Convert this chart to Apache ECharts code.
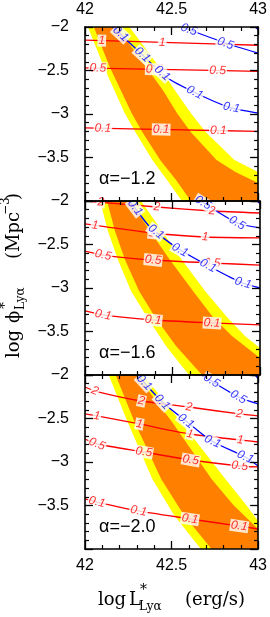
<!DOCTYPE html>
<html><head><meta charset="utf-8">
<script src="https://cdn.jsdelivr.net/npm/echarts@6/dist/echarts.min.js"></script>
<style>html,body{margin:0;padding:0;background:#fff}#c{width:270px;height:617px}</style>
</head><body><div id="c"></div>
<script>
// ---------- data (x = log L*, y = log phi*) ----------
const xTickValues = [42, 42.5, 43];
const xTickLabels = ['42', '42.5', '43'];
const yTickValues = [-2, -2.5, -3, -3.5];
const yTickLabels = ['\u22122', '\u22122.5', '\u22123', '\u22123.5'];
const alphaLabels = ['\u03b1=\u22121.2', '\u03b1=\u22121.6', '\u03b1=\u22122.0'];

// confidence bands: edges from top (log phi = -2) downward
const p1YellowL = [[42.017,-2],[42.109,-2.46],[42.229,-2.989],[42.291,-3.207],[42.389,-3.529],[42.474,-3.759],[42.56,-4]];
const p1OrangeL = [[42.051,-2],[42.143,-2.46],[42.269,-2.989],[42.331,-3.207],[42.434,-3.529],[42.526,-3.759],[42.611,-4]];
const p1OrangeR = [[42.183,-2],[42.354,-2.46],[42.457,-2.747],[42.531,-2.989],[42.611,-3.207],[42.76,-3.529],[42.869,-3.667],[43,-3.793]];
const p1YellowR = [[42.257,-2],[42.429,-2.46],[42.526,-2.747],[42.611,-2.989],[42.697,-3.207],[42.863,-3.529],[43,-3.667]];

const p2YellowL = [[42.086,-2],[42.131,-2.345],[42.189,-2.678],[42.263,-3.034],[42.354,-3.333],[42.463,-3.667],[42.594,-4]];
const p2OrangeL = [[42.126,-2],[42.171,-2.345],[42.229,-2.678],[42.309,-3.034],[42.4,-3.333],[42.52,-3.667],[42.669,-4]];
const p2OrangeR = [[42.257,-2],[42.371,-2.345],[42.486,-2.678],[42.617,-3.034],[42.731,-3.333],[42.84,-3.552],[43,-3.805]];
const p2YellowR = [[42.32,-2],[42.44,-2.345],[42.554,-2.678],[42.686,-3.034],[42.811,-3.333],[42.914,-3.552],[43,-3.69]];

const p3YellowL = [[42.137,-2],[42.246,-2.54],[42.389,-3.195],[42.514,-3.609],[42.669,-4]];
const p3OrangeL = [[42.177,-2],[42.286,-2.54],[42.44,-3.195],[42.571,-3.609],[42.731,-4]];
const p3OrangeR = [[42.297,-2],[42.503,-2.54],[42.731,-3.195],[42.857,-3.494],[43,-3.77]];
const p3YellowR = [[42.337,-2],[42.554,-2.54],[42.811,-3.195],[42.931,-3.494],[43,-3.678]];

// contour lines and their label positions
const p1Red1 = [[42,-2.15],[42.5,-2.18],[43,-2.21]];
const p1Red1Lab = [[42.097,-2.156],[42.446,-2.177]];
const p1Red05 = [[42,-2.47],[42.5,-2.49],[43,-2.51]];
const p1Red05Lab = [[42.074,-2.473],[42.4,-2.486],[42.766,-2.5]];
const p1Red01 = [[42,-3.16],[42.5,-3.18],[43,-3.2]];
const p1Red01Lab = [[42.103,-3.164],[42.44,-3.178],[42.771,-3.19]];
const p1Blue01 = [[42.16,-2],[42.314,-2.287],[42.469,-2.575],[42.64,-2.759],[42.829,-2.92],[43,-2.989]];
const p1Blue01Lab = [[42.206,-2.08],[42.331,-2.319],[42.446,-2.532],[42.634,-2.752],[42.846,-2.927]];
const p1Blue05 = [[42.56,-2],[42.811,-2.184],[43,-2.3]];
const p1Blue05Lab = [[42.6,-2.03],[42.811,-2.19]];
const p1Blue1 = [[42.983,-2],[43,-2.03]];

const p2Red2 = [[42,-2.0],[42.41,-2.069],[42.726,-2.115],[43,-2.138]];
const p2Red2Lab = [[42.09,-2.015],[42.41,-2.069],[42.726,-2.115]];
const p2Red1 = [[42,-2.264],[42.383,-2.368],[42.686,-2.414],[43,-2.425]];
const p2Red1Lab = [[42.057,-2.28],[42.383,-2.368],[42.686,-2.414]];
const p2Red05 = [[42,-2.575],[42.103,-2.621],[42.389,-2.678],[42.726,-2.713],[43,-2.736]];
const p2Red05Lab = [[42.103,-2.621],[42.389,-2.678],[42.726,-2.713]];
const p2Red01 = [[42,-3.264],[42.103,-3.31],[42.389,-3.368],[42.726,-3.402],[43,-3.425]];
const p2Red01Lab = [[42.103,-3.31],[42.389,-3.368],[42.726,-3.402]];
const p2Blue01 = [[42.257,-2],[42.371,-2.299],[42.526,-2.54],[42.697,-2.736],[42.886,-2.931],[43,-3.0]];
const p2Blue01Lab = [[42.286,-2.076],[42.406,-2.353],[42.543,-2.563],[42.703,-2.743],[42.903,-2.943]];
const p2Blue05 = [[42.66,-2],[42.869,-2.253],[43,-2.31]];
const p2Blue05Lab = [[42.674,-2.02],[42.869,-2.253]];
const p2Blue1 = [[42.983,-2],[43,-2.03]];

const p3Red2 = [[42,-2.138],[42.057,-2.184],[42.326,-2.299],[42.6,-2.368],[42.891,-2.448],[43,-2.471]];
const p3Red2Lab = [[42.057,-2.184],[42.326,-2.299],[42.6,-2.368],[42.891,-2.448]];
const p3Red1 = [[42,-2.448],[42.069,-2.471],[42.314,-2.563],[42.606,-2.678],[42.897,-2.747],[43,-2.77]];
const p3Red1Lab = [[42.069,-2.471],[42.314,-2.563],[42.606,-2.678],[42.897,-2.747]];
const p3Red05 = [[42,-2.736],[42.069,-2.793],[42.34,-2.885],[42.611,-2.977],[42.894,-3.046],[43,-3.057]];
const p3Red05Lab = [[42.069,-2.793],[42.34,-2.885],[42.611,-2.977],[42.894,-3.046]];
const p3Red01 = [[42,-3.425],[42.069,-3.46],[42.309,-3.563],[42.606,-3.655],[42.891,-3.736],[43,-3.77]];
const p3Red01Lab = [[42.069,-3.46],[42.309,-3.563],[42.606,-3.655],[42.891,-3.736]];
const p3Blue01 = [[42.303,-2],[42.446,-2.31],[42.583,-2.529],[42.731,-2.759],[42.926,-2.943],[43,-3.046]];
const p3Blue01Lab = [[42.343,-2.087],[42.446,-2.31],[42.583,-2.529],[42.737,-2.765],[42.926,-2.943]];
const p3Blue05 = [[42.674,-2],[42.886,-2.253],[43,-2.333]];
const p3Blue05Lab = [[42.731,-2.065],[42.886,-2.253]];
const p3Blue1 = [[42.983,-2],[43,-2.04]];

// ---------- layout / style ----------
const X_MIN = 42, X_MAX = 43, Y_MIN = -4, Y_MAX = -2;
const GRID_LEFT = 85, GRID_W = 175, GRID_H = 174, GRID_TOPS = [27, 201, 375];
const RED = '#ff0000', BLUE = '#0000ff', YELLOW = '#ffff00', ORANGE = '#ff8000';
const SERIF = '"DejaVu Serif", serif', SANS = '"Liberation Sans", Arial, sans-serif';

const panels = [
  {yl:p1YellowL, ol:p1OrangeL, or:p1OrangeR, yr:p1YellowR, contours:[
    [p1Red1,p1Red1Lab,'1',RED],[p1Red05,p1Red05Lab,'0.5',RED],[p1Red01,p1Red01Lab,'0.1',RED],
    [p1Blue01,p1Blue01Lab,'0.1',BLUE],[p1Blue05,p1Blue05Lab,'0.5',BLUE],[p1Blue1,[],'1',BLUE]]},
  {yl:p2YellowL, ol:p2OrangeL, or:p2OrangeR, yr:p2YellowR, contours:[
    [p2Red2,p2Red2Lab,'2',RED],[p2Red1,p2Red1Lab,'1',RED],[p2Red05,p2Red05Lab,'0.5',RED],[p2Red01,p2Red01Lab,'0.1',RED],
    [p2Blue01,p2Blue01Lab,'0.1',BLUE],[p2Blue05,p2Blue05Lab,'0.5',BLUE],[p2Blue1,[],'1',BLUE]]},
  {yl:p3YellowL, ol:p3OrangeL, or:p3OrangeR, yr:p3YellowR, contours:[
    [p3Red2,p3Red2Lab,'2',RED],[p3Red1,p3Red1Lab,'1',RED],[p3Red05,p3Red05Lab,'0.5',RED],[p3Red01,p3Red01Lab,'0.1',RED],
    [p3Blue01,p3Blue01Lab,'0.1',BLUE],[p3Blue05,p3Blue05Lab,'0.5',BLUE],[p3Blue1,[],'1',BLUE]]}
];

function lookup(vals, labs, v) {
  for (let i = 0; i < vals.length; i++) if (Math.abs(vals[i] - v) < 1e-6) return labs[i];
  return '';
}
const TICK = {show:true, inside:true, length:8, lineStyle:{color:'#000', width:1.3, opacity:1}};
const MINOR = {show:true, splitNumber:5, length:4, lineStyle:{color:'#000', width:1.2, opacity:1}};
function mkX(g, pos, show) {
  return {type:'value', gridIndex:g, position:pos, min:X_MIN, max:X_MAX, interval:0.5, z:10,
    axisLine:{show:true, onZero:false, lineStyle:{color:'#000', width:1.6}},
    axisTick:TICK, minorTick:MINOR,
    splitLine:{show:false}, minorSplitLine:{show:false},
    axisLabel:{show:show, margin:9, color:'#000', fontSize:16, fontFamily:SANS,
      formatter:v => lookup(xTickValues, xTickLabels, v)}};
}
function mkY(g, pos, show) {
  return {type:'value', gridIndex:g, position:pos, min:Y_MIN, max:Y_MAX, interval:0.5, z:10,
    axisLine:{show:true, onZero:false, lineStyle:{color:'#000', width:1.6}},
    axisTick:TICK, minorTick:MINOR,
    splitLine:{show:false}, minorSplitLine:{show:false},
    axisLabel:{show:show, margin:16, color:'#000', fontSize:16, fontFamily:SANS,
      showMinLabel:true, showMaxLabel:true,
      formatter:v => lookup(yTickValues, yTickLabels, v)}};
}
function band(g, left, right, color) {
  return {type:'custom', xAxisIndex:2*g, yAxisIndex:2*g, clip:true, z:1, silent:true,
    data:[left[0]],
    renderItem:(params, api) => {
      const pts = left.concat([[X_MAX, Y_MIN]], right.slice().reverse()).map(p => api.coord(p));
      return {type:'polygon', shape:{points:pts}, style:{fill:color, stroke:null}};
    }};
}
function slopeAngle(line, x) {
  let i = 0;
  while (i < line.length - 2 && line[i + 1][0] < x) i++;
  const a = line[i], b = line[i + 1];
  const sx = GRID_W / (X_MAX - X_MIN), sy = GRID_H / (Y_MAX - Y_MIN);
  return Math.atan2((b[1] - a[1]) * sy, (b[0] - a[0]) * sx) * 180 / Math.PI;
}

const grids = [], xAxes = [], yAxes = [], series = [], graphics = [];
panels.forEach((p, g) => {
  grids.push({left:GRID_LEFT, width:GRID_W, top:GRID_TOPS[g], height:GRID_H});
  xAxes.push(mkX(g, 'bottom', g === 2));
  xAxes.push(mkX(g, 'top', g === 0));
  yAxes.push(mkY(g, 'left', true));
  yAxes.push(mkY(g, 'right', false));
  series.push(band(g, p.yl, p.yr, YELLOW));
  series.push(band(g, p.ol, p.or, ORANGE));
  const labItems = [];
  p.contours.forEach(c => {
    const [line, labs, level, color] = c;
    series.push({type:'line', xAxisIndex:2*g, yAxisIndex:2*g, data:line, symbol:'none', showSymbol:false,
      smooth:0.2, clip:true, silent:true, z:3, lineStyle:{color:color, width:1.3}});
    labs.forEach(l => labItems.push({name:level, value:l,
      label:{color:color, rotate:slopeAngle(line, l[0])}}));
  });
  series.push({type:'scatter', xAxisIndex:2*g, yAxisIndex:2*g, data:labItems, symbol:'circle', symbolSize:1,
    silent:true, z:5, clip:false,
    itemStyle:{color:'rgba(255,255,255,0)'},
    label:{show:true, position:'inside', formatter:'{b}', fontSize:12, fontStyle:'italic', fontFamily:SANS,
      backgroundColor:'#fff', padding:[0,1,0,1], lineHeight:12}});
  graphics.push({type:'text', x:99, y:GRID_TOPS[g] + 152, z:10,
    style:{text:alphaLabels[g], font:'18px ' + SANS, fill:'#000', align:'left', verticalAlign:'middle',
      textAlign:'left', textVerticalAlign:'middle'}});
});

function t(x, y, text, size) {
  return {type:'text', x:x, y:y, style:{text:text, font:size + 'px ' + SERIF, fill:'#000',
    align:'left', verticalAlign:'middle', textAlign:'left', textVerticalAlign:'middle'}};
}
// x-axis title
graphics.push(t(98, 600, 'log', 18), t(129, 600, 'L', 18), t(140, 590, '*', 14), t(139, 607, 'Ly\u03b1', 12), t(185, 600, '(erg/s)', 18));
// y-axis title (rotated)
graphics.push({type:'group', x:14, y:358, rotation:Math.PI / 2, children:[
  t(0, 0, 'log', 18), t(35, 0, '\u03d5', 18), t(49, -9, '*', 14), t(48, 7, 'Ly\u03b1', 12),
  t(99, 0, '(Mpc', 18), t(143, -8, '\u22123', 12), t(158, 0, ')', 18)]});

const chart = echarts.init(document.getElementById('c'), null, {renderer:'canvas'});
chart.setOption({animation:false, backgroundColor:'#fff', grid:grids, xAxis:xAxes, yAxis:yAxes,
  series:series, graphic:graphics});
</script></body></html>
